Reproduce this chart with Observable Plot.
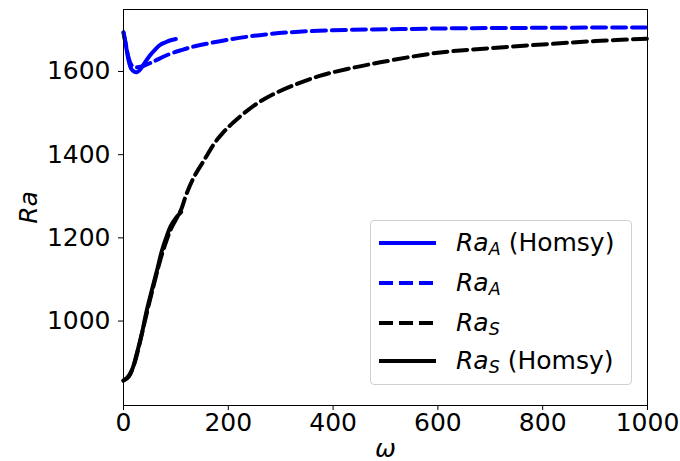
<!DOCTYPE html>
<html>
<head>
<meta charset="utf-8">
<script src="https://cdn.jsdelivr.net/npm/d3@7"></script>
<script src="https://cdn.jsdelivr.net/npm/@observablehq/plot@0.6"></script>
<style>
  body { margin: 0; background: #fff; }
  #wrap { position: relative; width: 680px; height: 461px; font-family: "DejaVu Sans", sans-serif; }
  #legend { position: absolute; left: 370px; top: 220px; width: 262px; height: 165px;
    border: 1px solid #d0d0d0; border-radius: 4px; background: rgba(255,255,255,0.85); box-sizing: border-box; }
  .row { position: absolute; left: 0; height: 30px; width: 100%; }
  .row svg { position: absolute; left: 7px; top: 0; }
  .row .lbl { position: absolute; left: 85px; top: 0; line-height: 30px; font-size: 25px; color: #000; white-space: nowrap; }
  .row .lbl i { font-style: italic; }
  .row .lbl sub { font-size: 70%; font-style: italic; vertical-align: -0.25em; line-height: 0; }
</style>
</head>
<body>
<div id="wrap"></div>
<script>
// ---- data ----
const omegaBlueSolid = [0, 5, 10, 15, 20, 25, 30, 40, 50, 60, 70, 80, 90, 100];
const raBlueSolid    = [1694, 1660, 1625, 1606, 1600, 1598, 1602, 1620, 1638, 1652, 1664, 1670, 1675, 1678];

const omegaBlueDash = [0, 5, 10, 16, 25, 35, 54, 86, 112, 134, 156, 207, 271, 341, 430, 529, 650, 800, 1000];
const raBlueDash    = [1694, 1662, 1632, 1614, 1610, 1612, 1622, 1641, 1652, 1660, 1666, 1678, 1689, 1696, 1700, 1702, 1704, 1705, 1706];

const omegaBlackDash = [0, 10, 20, 30, 40, 50, 60, 70, 80, 90, 100, 110, 120, 134, 153, 175, 188, 210, 249, 287, 331, 376, 427, 490, 600, 700, 800, 900, 1000];
const raBlackDash    = [857, 866, 895, 942, 996, 1048, 1098, 1146, 1186, 1220, 1244, 1268, 1305, 1345, 1385, 1430, 1450, 1478, 1518, 1546, 1570, 1590, 1606, 1622, 1645, 1656, 1665, 1673, 1679];

const omegaBlackSolid = [0, 6, 16, 25, 35, 44, 54, 64, 73, 80, 90, 100, 110];
const raBlackSolid    = [857, 862, 882, 920, 970, 1024, 1074, 1122, 1168, 1195, 1228, 1248, 1262];

const xTicks = [0, 200, 400, 600, 800, 1000];
const yTicks = [1000, 1200, 1400, 1600];

const legendItems = [
  {sub: "A", extra: " (Homsy)", color: "#0000ff", dash: null},
  {sub: "A", extra: "", color: "#0000ff", dash: "14,6"},
  {sub: "S", extra: "", color: "#000000", dash: "14,6"},
  {sub: "S", extra: " (Homsy)", color: "#000000", dash: null}
];

const toRows = (xs, ys) => xs.map((x, i) => ({x, y: ys[i]}));

const chart = Plot.plot({
  width: 680,
  height: 461,
  marginLeft: 123,
  marginRight: 33,
  marginTop: 9,
  marginBottom: 56,
  style: {fontFamily: "DejaVu Sans, sans-serif", fontSize: "25px", color: "#000", background: "#fff", overflow: "visible"},
  x: {domain: [0, 1000], ticks: xTicks, tickFormat: d => String(d), tickSize: 5, tickPadding: 3, label: null},
  y: {domain: [797, 1749], ticks: yTicks, tickFormat: d => String(d), tickSize: 5, tickPadding: 8, label: null},
  marks: [
    Plot.line(toRows(omegaBlackDash, raBlackDash), {x: "x", y: "y", stroke: "#000", strokeWidth: 4, strokeDasharray: "14,6", curve: "catmull-rom"}),
    Plot.line(toRows(omegaBlackSolid, raBlackSolid), {x: "x", y: "y", stroke: "#000", strokeWidth: 4, curve: "catmull-rom"}),
    Plot.line(toRows(omegaBlueDash, raBlueDash), {x: "x", y: "y", stroke: "#0000ff", strokeWidth: 4, strokeDasharray: "14,6", curve: "catmull-rom"}),
    Plot.line(toRows(omegaBlueSolid, raBlueSolid), {x: "x", y: "y", stroke: "#0000ff", strokeWidth: 4, curve: "catmull-rom"}),
    Plot.frame({stroke: "#000", strokeWidth: 1}),
    Plot.text(["Ra"], {frameAnchor: "left", dx: -95, rotate: -90, text: d => d, fontStyle: "italic", fontSize: 25, textAnchor: "middle", lineAnchor: "middle"}),
    Plot.text(["ω"], {frameAnchor: "bottom", dy: 43, text: d => d, fontStyle: "italic", fontSize: 25, textAnchor: "middle", lineAnchor: "middle"})
  ]
});

const wrap = document.getElementById("wrap");
wrap.appendChild(chart);

const legend = document.createElement("div");
legend.id = "legend";
const rowTops = [7, 47, 87, 125];
legendItems.forEach((it, i) => {
  const row = document.createElement("div");
  row.className = "row";
  row.style.top = rowTops[i] + "px";
  row.innerHTML = `<svg width="60" height="30"><line x1="1" x2="58" y1="15" y2="15" stroke="${it.color}" stroke-width="4" ${it.dash ? `stroke-dasharray="${it.dash}"` : ""}/></svg>` +
    `<span class="lbl"><i>Ra</i><sub>${it.sub}</sub>${it.extra}</span>`;
  legend.appendChild(row);
});
wrap.appendChild(legend);
</script>
</body>
</html>
